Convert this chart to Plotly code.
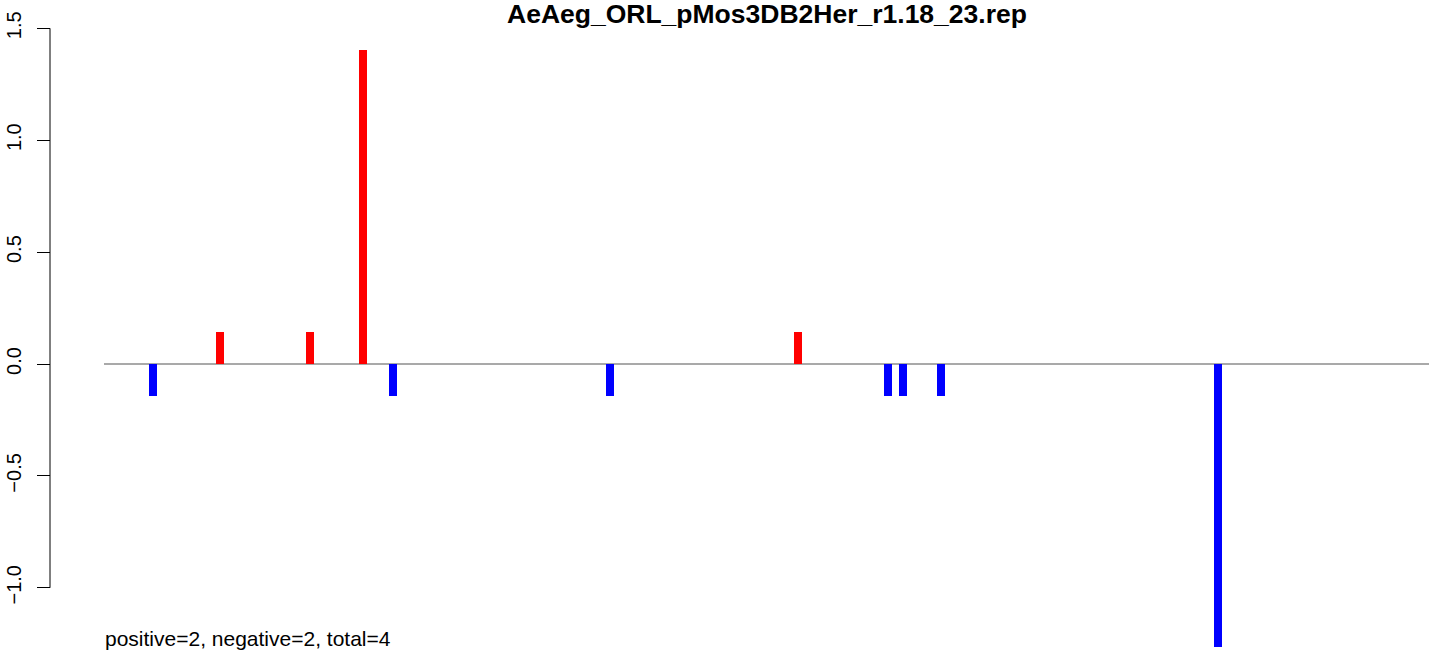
import plotly.graph_objects as go

# Data
positions = [49, 116, 206, 259, 289, 506, 694, 784, 799, 837, 1114]
values = [-0.143, 0.143, 0.143, 1.403, -0.143, -0.143, 0.143, -0.143, -0.143, -0.143, -1.264]
colors = ["#0000FF" if v < 0 else "#FF0000" for v in values]
y_ticks = [-1.0, -0.5, 0.0, 0.5, 1.0, 1.5]
y_tick_labels = ["\u22121.0", "\u22120.5", "0.0", "0.5", "1.0", "1.5"]
title_text = "AeAeg_ORL_pMos3DB2Her_r1.18_23.rep"
summary_text = "positive=2, negative=2, total=4"

W, H = 1429, 651
ML = 50
FONT = "Liberation Sans, Arial, sans-serif"

fig = go.Figure()
fig.add_trace(go.Bar(x=positions, y=values, width=8, marker=dict(color=colors, line=dict(width=0)),
                     hoverinfo="x+y"))

fig.update_layout(
    width=W, height=H,
    margin=dict(l=ML, r=0, t=0, b=0, pad=0),
    paper_bgcolor="white", plot_bgcolor="white",
    showlegend=False,
    font=dict(family=FONT, size=20, color="black"),
    xaxis=dict(domain=[54 / (W - ML), 1], range=[0, 1325], visible=False, fixedrange=True),
    yaxis=dict(anchor="free", position=0, range=[-1.2824, 1.6265], tickvals=y_ticks, ticktext=y_tick_labels,
               ticks="outside", ticklen=13, tickwidth=1, tickcolor="black", tickangle=-90,
               showgrid=False, zeroline=False, showline=False, ticklabelstandoff=8, fixedrange=True,
               tickfont=dict(family=FONT, size=20, color="black")),
    shapes=[
        dict(type="line", xref="x domain", yref="y", x0=0, x1=1, y0=0, y1=0,
             line=dict(color="#8c8c8c", width=1.5), layer="below"),
        dict(type="line", xref="paper", yref="y", x0=0, x1=0, y0=y_ticks[0], y1=y_ticks[-1],
             line=dict(color="black", width=1)),
    ],
    annotations=[
        dict(text="<b>" + title_text + "</b>", xref="paper", yref="paper", x=(767 - ML) / (W - ML), y=1 - 14 / H,
             xanchor="center", yanchor="middle", showarrow=False, font=dict(family=FONT, size=26.5, color="black")),
        dict(text=summary_text, xref="paper", yref="paper", x=(103 - ML) / (W - ML), y=(H - 638) / H,
             xanchor="left", yanchor="middle", showarrow=False, font=dict(family=FONT, size=21, color="black")),
    ],
)

fig.write_html("out.html", config={"displayModeBar": False},
               post_script="document.body.style.margin='0';document.body.style.overflow='hidden';")
